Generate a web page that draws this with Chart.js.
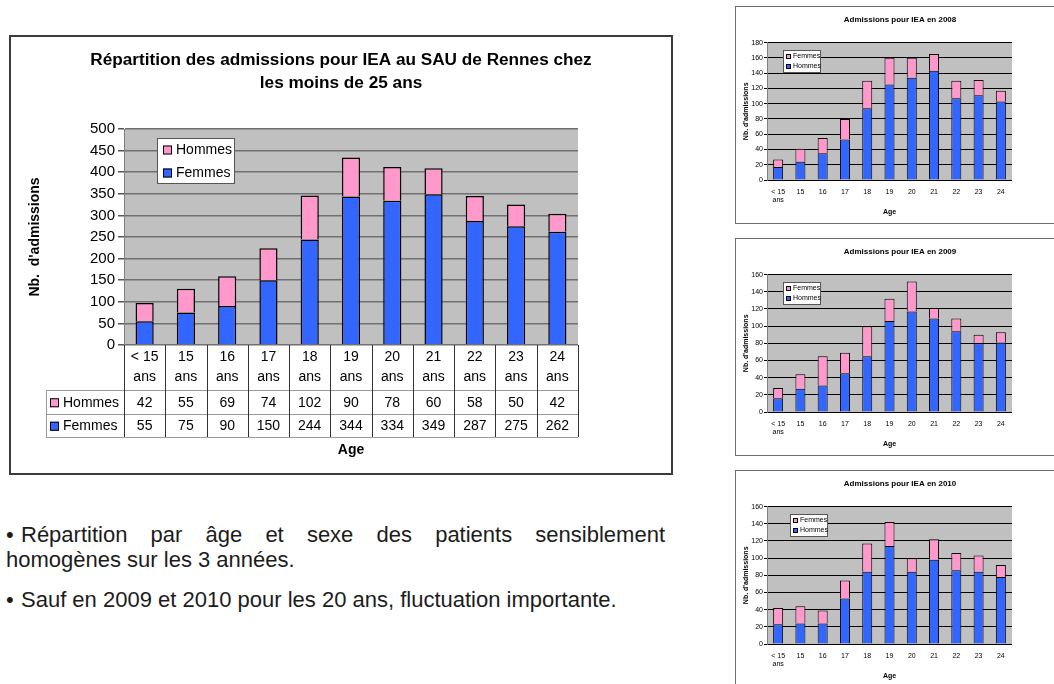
<!DOCTYPE html>
<html lang="fr">
<head>
<meta charset="utf-8">
<script src="https://cdn.jsdelivr.net/npm/chart.js@4.4.1/dist/chart.umd.min.js"></script>
<style>
  html, body { margin: 0; padding: 0; background: #fff; width: 1054px; height: 684px; overflow: hidden; }
  body { position: relative; font-family: "Liberation Sans", Arial, sans-serif; }
  .frame { position: absolute; box-sizing: border-box; background: #fff; }
  .frame canvas { display: block; }
  #mainFrame { left: 9px; top: 35px; width: 664px; height: 440px; border: 2px solid #3c3c3c; }
  .small { left: 735px; width: 330px; height: 218px; border: 1px solid #6e6e6e; }
  #notes { position: absolute; left: 6px; top: 522px; width: 659px; font-size: 22px; line-height: 25px; color: #1c1c1c; text-align: justify; }
  #notes p { margin: 0 0 15px 0; }
  #notes .dot { display: inline-block; width: 15px; }
</style>
</head>
<body>

<div class="frame" id="mainFrame"><canvas id="mainChart" width="660" height="436"></canvas></div>
<div class="frame small" style="top:6px"><canvas id="chart2008" width="328" height="216"></canvas></div>
<div class="frame small" style="top:238px"><canvas id="chart2009" width="328" height="216"></canvas></div>
<div class="frame small" style="top:470px"><canvas id="chart2010" width="328" height="216"></canvas></div>

<div id="notes">
  <p><span class="dot">•</span>Répartition par âge et sexe des patients sensiblement homogènes sur les 3 années.</p>
  <p><span class="dot">•</span>Sauf en 2009 et 2010 pour les 20 ans, fluctuation importante.</p>
</div>

<script>
// main chart: totals over the 3 years
const ageLabels = [["< 15", "ans"], ["15", "ans"], ["16", "ans"], ["17", "ans"], ["18", "ans"], ["19", "ans"],
                   ["20", "ans"], ["21", "ans"], ["22", "ans"], ["23", "ans"], ["24", "ans"]];
const hommes = [42, 55, 69, 74, 102, 90, 78, 60, 58, 50, 42];
const femmes = [55, 75, 90, 150, 244, 344, 334, 349, 287, 275, 262];

// small charts, one per year (blue = Hommes, pink = Femmes, as in their legends)
const smallAges = [["< 15", "ans"], "15", "16", "17", "18", "19", "20", "21", "22", "23", "24"];
const hommes2008 = [17, 24, 35, 53, 94, 125, 134, 143, 107, 111, 103];
const femmes2008 = [10, 17, 20, 27, 36, 35, 26, 22, 23, 20, 14];
const hommes2009 = [16, 27, 31, 45, 65, 106, 117, 109, 94, 80, 81];
const femmes2009 = [12, 17, 34, 24, 35, 26, 35, 12, 15, 10, 12];
const hommes2010 = [23, 24, 24, 53, 84, 114, 84, 98, 86, 84, 78];
const femmes2010 = [19, 20, 15, 21, 33, 28, 16, 24, 20, 19, 14];

const BLUE = "#3366ff";
const PINK = "#ff99cc";
const FONT = "'Liberation Sans', Arial, sans-serif";

Chart.defaults.font.family = FONT;
Chart.defaults.color = "#000";

// grey plot background
const plotBg = {
    id: "plotBg",
    beforeDraw(chart) {
        const a = chart.chartArea;
        const ctx = chart.ctx;
        ctx.save();
        ctx.fillStyle = "#c0c0c0";
        ctx.fillRect(a.left, a.top, a.right - a.left, a.bottom - a.top);
        ctx.restore();
    }
};

// boxed legend sitting inside the plot
const boxLegend = {
    id: "boxLegend",
    afterDraw(chart, args, o) {
        const ctx = chart.ctx;
        const sets = chart.data.datasets.slice().reverse();
        ctx.save();
        ctx.fillStyle = "#fff";
        ctx.fillRect(o.x, o.y, o.w, o.h);
        ctx.strokeStyle = "#555";
        ctx.lineWidth = 1;
        ctx.strokeRect(o.x + 0.5, o.y + 0.5, o.w - 1, o.h - 1);
        ctx.font = o.size + "px " + FONT;
        ctx.textBaseline = "middle";
        sets.forEach(function (ds, i) {
            const cy = o.y + o.first + i * o.step;
            ctx.fillStyle = ds.backgroundColor;
            ctx.fillRect(o.x + o.pad, cy - o.box / 2, o.box, o.box);
            ctx.strokeStyle = "#000";
            ctx.strokeRect(o.x + o.pad + 0.5, cy - o.box / 2 + 0.5, o.box - 1, o.box - 1);
            ctx.fillStyle = "#000";
            ctx.fillText(ds.label, o.x + o.pad + o.box + o.gap, cy);
        });
        ctx.restore();
    }
};

// data table under the main chart
const dataTable = {
    id: "dataTable",
    afterDraw(chart, args, o) {
        if (!o.show) return;
        const ctx = chart.ctx;
        const a = chart.chartArea;
        const x = chart.scales.x;
        const n = chart.data.labels.length;
        const half = (x.getPixelForValue(1) - x.getPixelForValue(0)) / 2;
        const rows = chart.data.datasets.slice().reverse();
        const headBottom = a.bottom + o.headHeight;
        const bottom = headBottom + o.rowHeight * rows.length;

        ctx.save();
        ctx.lineWidth = 1;
        ctx.strokeStyle = "#9a9a9a";
        for (let r = 0; r <= rows.length; r++) {
            const y = Math.round(headBottom + r * o.rowHeight) + 0.5;
            ctx.beginPath(); ctx.moveTo(o.left, y); ctx.lineTo(a.right, y); ctx.stroke();
        }
        ctx.beginPath(); ctx.moveTo(o.left + 0.5, headBottom); ctx.lineTo(o.left + 0.5, bottom); ctx.stroke();

        ctx.strokeStyle = "#333";
        for (let i = 0; i <= n; i++) {
            const px = Math.round(x.getPixelForValue(0) - half + i * 2 * half) + 0.5;
            ctx.beginPath(); ctx.moveTo(px, a.bottom); ctx.lineTo(px, bottom); ctx.stroke();
        }

        ctx.font = "14px " + FONT;
        ctx.textBaseline = "middle";
        rows.forEach(function (ds, r) {
            const cy = headBottom + (r + 0.5) * o.rowHeight + 1;
            ctx.fillStyle = ds.backgroundColor;
            ctx.fillRect(o.left + 4, cy - 4.5, 9, 9);
            ctx.strokeStyle = "#000";
            ctx.strokeRect(o.left + 4.5, cy - 4, 8, 8);
            ctx.fillStyle = "#000";
            ctx.textAlign = "left";
            ctx.fillText(ds.label, o.left + 17, cy);
            ctx.textAlign = "center";
            ds.data.forEach(function (v, i) {
                ctx.fillText(String(v), x.getPixelForValue(i), cy);
            });
        });
        ctx.restore();
    }
};

new Chart(document.getElementById("mainChart"), {
    type: "bar",
    data: {
        labels: ageLabels,
        datasets: [
            { label: "Femmes", data: femmes, backgroundColor: BLUE },
            { label: "Hommes", data: hommes, backgroundColor: PINK }
        ]
    },
    options: {
        responsive: false,
        animation: false,
        layout: { padding: 0 },
        datasets: {
            bar: { barPercentage: 0.44, categoryPercentage: 1, borderColor: "#000", borderWidth: 1.5 }
        },
        plugins: {
            legend: { display: false },
            tooltip: { enabled: false },
            title: {
                display: true,
                text: ["Répartition des admissions pour IEA au SAU de Rennes chez", "les moins de 25 ans"],
                font: { size: 17.2, weight: "bold", lineHeight: 23 / 17.2 },
                color: "#000",
                padding: { top: 11.5, bottom: 34.5 }
            },
            boxLegend: { x: 146, y: 101, w: 78, h: 46, size: 14, box: 9, pad: 6, gap: 4, first: 12, step: 23 },
            dataTable: { show: true, left: 35, headHeight: 45, rowHeight: 23.5 }
        },
        scales: {
            x: {
                stacked: true,
                grid: { display: false, drawTicks: false },
                border: { display: false },
                ticks: { font: { size: 14, lineHeight: 20 / 14 }, color: "#000", padding: 2, maxRotation: 0, autoSkip: false },
                title: { display: true, text: "Age", font: { size: 14, weight: "bold" }, color: "#000", padding: { top: 0, bottom: 14.5 } },
                afterFit: function (s) { s.height = 128; }
            },
            y: {
                stacked: true,
                min: 0,
                max: 500,
                ticks: { stepSize: 50, font: { size: 15 }, color: "#000", padding: 3 },
                grid: { color: "#707070", lineWidth: 1.5, tickLength: 6, tickColor: "#555" },
                border: { color: "#808080" },
                title: { display: true, text: "Nb.  d'admissions", font: { size: 14, weight: "bold" }, color: "#000", padding: { top: 15.5, bottom: 0 } },
                afterFit: function (s) { s.width = 113; }
            },
            spacer: {
                position: "right",
                grid: { display: false, drawTicks: false },
                border: { display: false },
                ticks: { display: false },
                afterFit: function (s) { s.width = 93; }
            }
        }
    },
    plugins: [plotBg, boxLegend, dataTable]
});

function smallChart(id, year, blue, pink, yMax, legendX) {
    new Chart(document.getElementById(id), {
        type: "bar",
        data: {
            labels: smallAges,
            datasets: [
                { label: "Hommes", data: blue, backgroundColor: BLUE },
                { label: "Femmes", data: pink, backgroundColor: PINK }
            ]
        },
        options: {
            responsive: false,
            animation: false,
            layout: { padding: 0 },
            datasets: {
                bar: { barPercentage: 0.45, categoryPercentage: 1, borderColor: "#000", borderWidth: 1 }
            },
            plugins: {
                legend: { display: false },
                tooltip: { enabled: false },
                title: {
                    display: true,
                    text: "Admissions pour IEA en " + year,
                    font: { size: 8, weight: "bold", lineHeight: 1.2 },
                    color: "#000",
                    padding: { top: 8, bottom: 18 }
                },
                boxLegend: { x: legendX, y: 43, w: 38, h: 23, size: 7, box: 5, pad: 3, gap: 2, first: 6.5, step: 10 },
                dataTable: { show: false }
            },
            scales: {
                x: {
                    stacked: true,
                    grid: { display: false, drawTicks: false },
                    border: { display: false },
                    ticks: { font: { size: 7, lineHeight: 8 / 7 }, color: "#000", padding: 8, maxRotation: 0, autoSkip: false },
                    title: { display: true, text: "Age", font: { size: 7, weight: "bold" }, color: "#000", padding: { top: 0, bottom: 7 } },
                    afterFit: function (s) { s.height = 43; }
                },
                y: {
                    stacked: true,
                    min: 0,
                    max: yMax,
                    ticks: { stepSize: 20, font: { size: 7 }, color: "#000", padding: 1 },
                    grid: { color: "#000", lineWidth: 1, tickLength: 3, tickColor: "#000" },
                    border: { color: "#808080" },
                    title: { display: true, text: "Nb. d'admissions", font: { size: 7, weight: "bold" }, color: "#000", padding: { top: 6, bottom: 0 } },
                    afterFit: function (s) { s.width = 31; }
                },
                spacer: {
                    position: "right",
                    grid: { display: false, drawTicks: false },
                    border: { display: false },
                    ticks: { display: false },
                    afterFit: function (s) { s.width = 52; }
                }
            }
        },
        plugins: [plotBg, boxLegend, dataTable]
    });
}

smallChart("chart2008", 2008, hommes2008, femmes2008, 180, 47);
smallChart("chart2009", 2009, hommes2009, femmes2009, 160, 47);
smallChart("chart2010", 2010, hommes2010, femmes2010, 160, 54);
</script>
</body>
</html>
